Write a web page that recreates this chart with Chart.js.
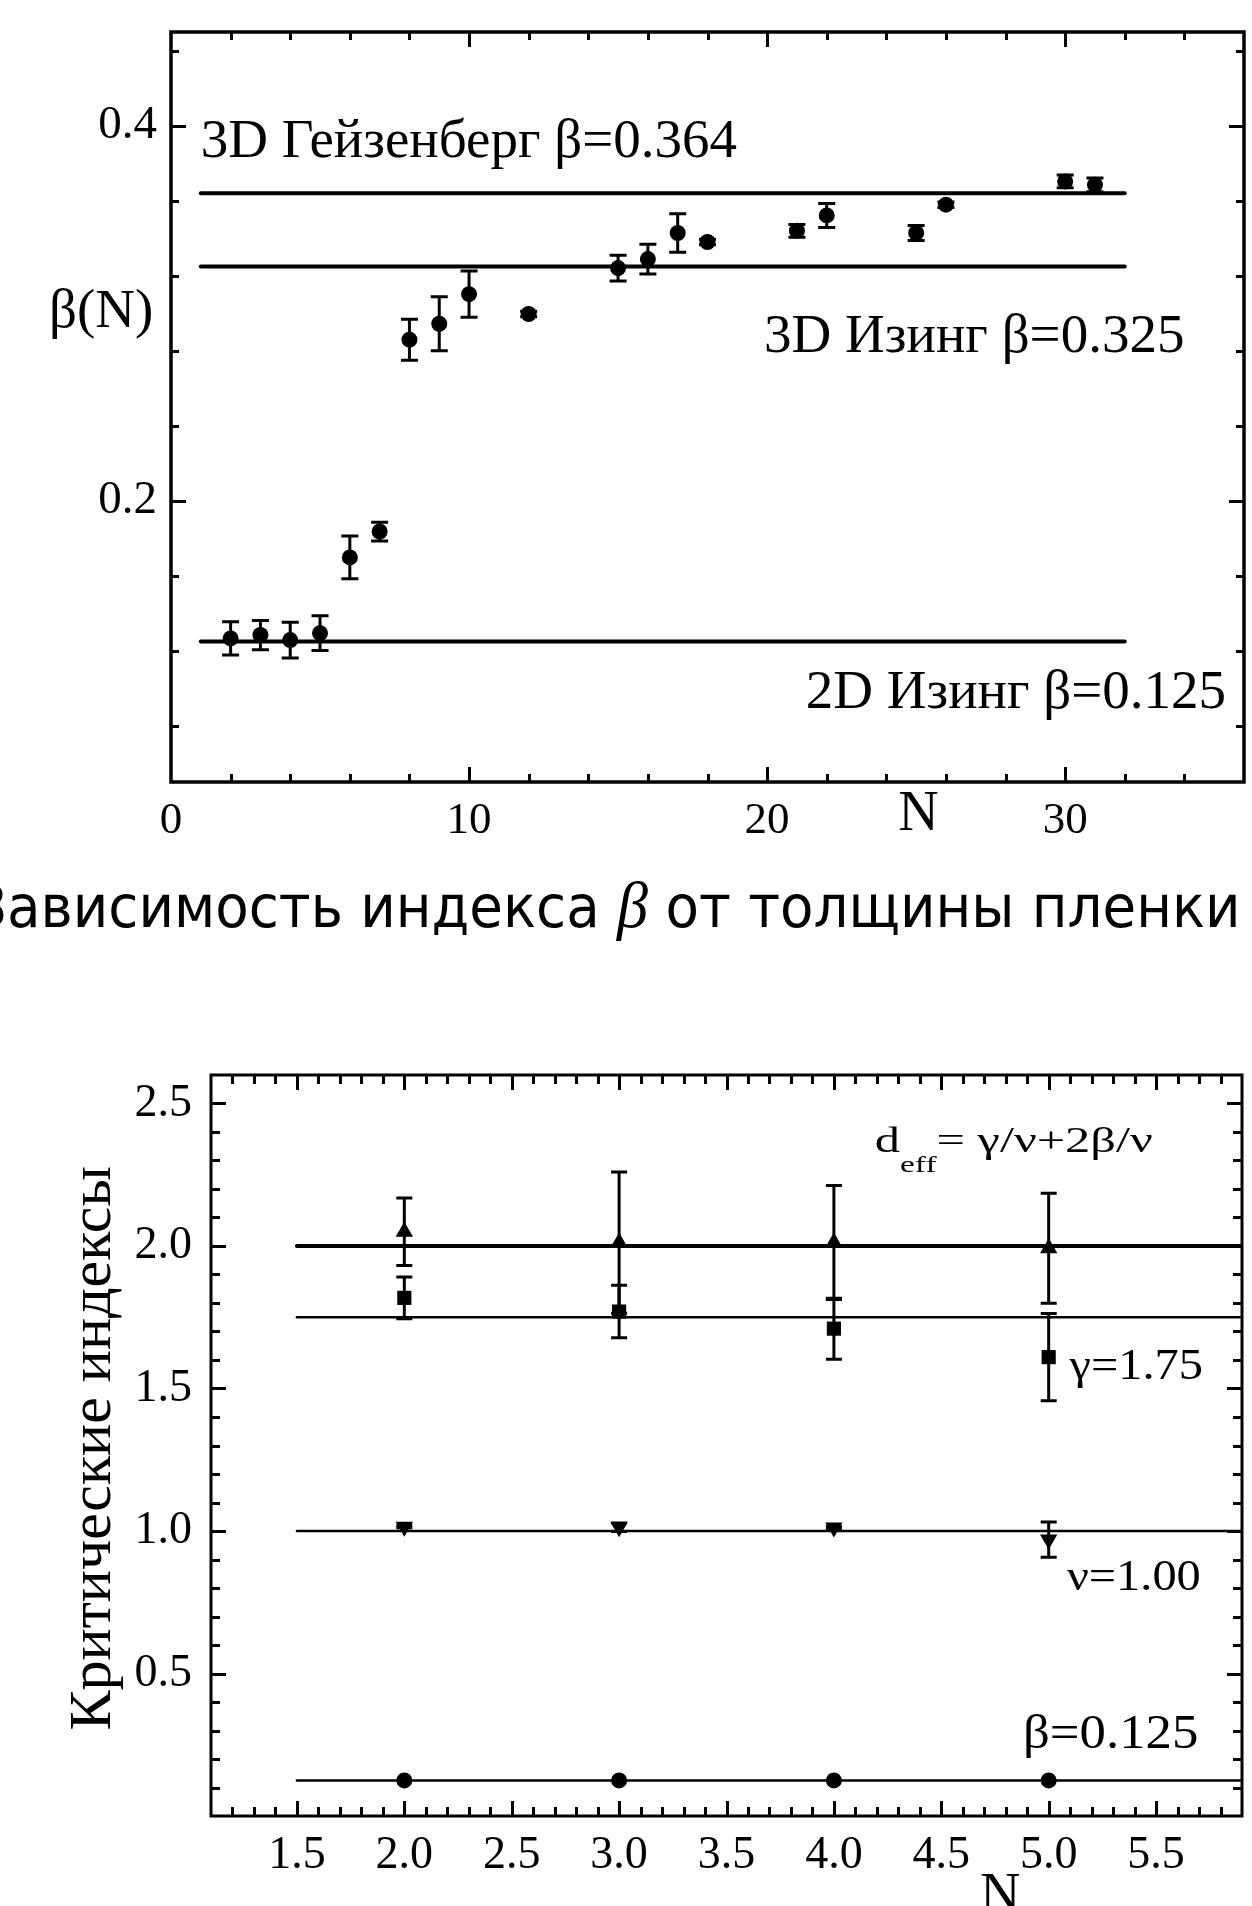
<!DOCTYPE html>
<html>
<head>
<meta charset="utf-8">
<script src="https://cdn.jsdelivr.net/npm/chart.js@4.4.1/dist/chart.umd.min.js"></script>
<style>
  html, body { margin: 0; padding: 0; background: #fff; }
  body { width: 1252px; height: 1906px; overflow: hidden; position: relative; }
  #topWrap { position: absolute; left: 0; top: 0; width: 1252px; height: 860px; }
  #botWrap { position: absolute; left: 0; top: 1040px; width: 1252px; height: 866px; }
  #caption {
    position: absolute; left: -28px; top: 876px; white-space: nowrap;
    font-family: "DejaVu Sans"; font-size: 58px; line-height: 58px; color: #000;
    transform: scaleX(0.943); transform-origin: 0 0;
  }
  #caption i { font-family: "Liberation Serif"; font-size: 66px; }
</style>
</head>
<body>
<div id="topWrap"><canvas id="topChart" width="1252" height="860"></canvas></div>
<div id="caption">Зависимость индекса <i>β</i> от толщины пленки</div>
<div id="botWrap"><canvas id="botChart" width="1252" height="866"></canvas></div>

<script>
// ---------- upper panel: beta(N) versus film thickness ----------
const thicknessN = [2, 3, 4, 5, 6, 7, 8, 9, 10, 12, 15, 16, 17, 18, 21, 22, 25, 26, 30, 31];
const betaN      = [0.1266, 0.1284, 0.1257, 0.1294, 0.1698, 0.1836, 0.2859, 0.2944, 0.3102, 0.2996,
                    0.3241, 0.3289, 0.3428, 0.3380, 0.3440, 0.3522, 0.3428, 0.3579, 0.3703, 0.3685];
const betaErr    = [0.0089, 0.0078, 0.0095, 0.0093, 0.0114, 0.0050, 0.0109, 0.0144, 0.0123, 0.0015,
                    0.0069, 0.0079, 0.0103, 0.0015, 0.0034, 0.0064, 0.0040, 0.0015, 0.0034, 0.0037];
const heisenbergBeta = 0.364;
const ising3DBeta    = 0.325;
const ising2DBeta    = 0.125;
const refLineSpanTop = [1, 32];
const topXTicks = [0, 10, 20, 30];
const topYTicks = [0.2, 0.4];

// ---------- lower panel: critical exponents versus N ----------
const layersN   = [2, 3, 4, 5];
const deffVals  = [2.050, 2.012, 2.012, 1.992];
const deffErr   = [0.118, 0.248, 0.200, 0.193];
const gammaVals = [1.818, 1.770, 1.710, 1.610];
const gammaErr  = [0.073, 0.092, 0.107, 0.153];
const nuVals    = [1.015, 1.013, 1.012, 0.970];
const nuErr     = [0.004, 0.015, 0.004, 0.062];
const beta2Vals = [0.125, 0.125, 0.125, 0.125];
const deffTheory  = 2.0;
const gammaTheory = 1.75;
const nuTheory    = 1.00;
const betaTheory  = 0.125;
const refLineSpanBot = [1.5, 5.9];
const botXTicks = [1.5, 2.0, 2.5, 3.0, 3.5, 4.0, 4.5, 5.0, 5.5];
const botYTicks = [0.5, 1.0, 1.5, 2.0, 2.5];

const SERIF = '"Liberation Serif", "Times New Roman", serif';

// Box frame with inward major/minor ticks on all four sides
const frameTicks = {
  id: 'frameTicks',
  afterDraw(chart, args, o) {
    const { ctx, chartArea: a, scales: { x, y } } = chart;
    ctx.save();
    ctx.strokeStyle = '#000';
    ctx.lineCap = 'butt';
    ctx.lineWidth = o.tickWidth;
    const eps = 1e-7;
    const isMajor = (v, step) => Math.abs(v / step - Math.round(v / step)) < 1e-6;
    for (let v = Math.ceil(x.min / o.xMinor - eps) * o.xMinor; v <= x.max + eps; v += o.xMinor) {
      if (Math.abs(v - x.min) < eps || Math.abs(v - x.max) < eps) continue;
      const px = Math.round(x.getPixelForValue(v)) + 0.5;
      const len = isMajor(v, o.xMajor) ? o.majorLen : o.minorLen;
      ctx.beginPath();
      ctx.moveTo(px, a.bottom); ctx.lineTo(px, a.bottom - len);
      ctx.moveTo(px, a.top); ctx.lineTo(px, a.top + len);
      ctx.stroke();
    }
    for (let v = Math.ceil(y.min / o.yMinor - eps) * o.yMinor; v <= y.max + eps; v += o.yMinor) {
      if (Math.abs(v - y.min) < eps || Math.abs(v - y.max) < eps) continue;
      const py = Math.round(y.getPixelForValue(v)) + 0.5;
      const len = isMajor(v, o.yMajor) ? o.majorLen : o.minorLen;
      ctx.beginPath();
      ctx.moveTo(a.left, py); ctx.lineTo(a.left + len, py);
      ctx.moveTo(a.right, py); ctx.lineTo(a.right - len, py);
      ctx.stroke();
    }
    ctx.lineWidth = o.frameWidth;
    ctx.strokeRect(a.left, a.top, a.right - a.left, a.bottom - a.top);
    ctx.restore();
  }
};

// Vertical error bars with caps, read from each dataset's `errors`
const errorBars = {
  id: 'errorBars',
  beforeDatasetsDraw(chart, args, o) {
    const { ctx, scales: { x, y } } = chart;
    ctx.save();
    ctx.strokeStyle = '#000';
    ctx.lineWidth = o.width;
    chart.data.datasets.forEach(ds => {
      if (!ds.errors) return;
      ds.data.forEach((p, i) => {
        const e = ds.errors[i];
        if (!e) return;
        const px = x.getPixelForValue(p.x);
        const y1 = y.getPixelForValue(p.y + e);
        const y2 = y.getPixelForValue(p.y - e);
        ctx.beginPath();
        ctx.moveTo(px, y1); ctx.lineTo(px, y2);
        ctx.moveTo(px - o.cap, y1); ctx.lineTo(px + o.cap, y1);
        ctx.moveTo(px - o.cap, y2); ctx.lineTo(px + o.cap, y2);
        ctx.stroke();
      });
    });
    ctx.restore();
  }
};

// Text labels placed in data coordinates (optionally with subscripts / horizontal stretch)
function drawRich(ctx, x, y, parts, align, sx) {
  ctx.save();
  ctx.textBaseline = 'alphabetic';
  ctx.textAlign = 'left';
  let total = 0;
  parts.forEach(p => { ctx.font = p.size + 'px ' + SERIF; total += ctx.measureText(p.text).width; });
  ctx.translate(x, y);
  ctx.scale(sx || 1, 1);
  let cx = align === 'right' ? -total : 0;
  parts.forEach(p => {
    ctx.font = p.size + 'px ' + SERIF;
    ctx.fillText(p.text, cx, p.dy || 0);
    cx += ctx.measureText(p.text).width;
  });
  ctx.restore();
}

const notesPlugin = {
  id: 'notes',
  afterDraw(chart, args, o) {
    const { ctx, chartArea: a, scales: { x, y } } = chart;
    ctx.save();
    ctx.fillStyle = '#000';
    (o.items || []).forEach(n => {
      const px = n.px !== undefined ? n.px : x.getPixelForValue(n.x);
      const py = n.below !== undefined ? a.bottom + n.below : y.getPixelForValue(n.y);
      if (n.rotate) {
        ctx.save();
        ctx.translate(px, py);
        ctx.rotate(-Math.PI / 2);
        ctx.font = n.parts[0].size + 'px ' + SERIF;
        ctx.textAlign = 'center';
        ctx.textBaseline = 'middle';
        ctx.fillText(n.parts[0].text, 0, 0);
        ctx.restore();
      } else {
        drawRich(ctx, px, py, n.parts, n.align, n.sx);
      }
    });
    ctx.restore();
  }
};

function fixedTicks(values) {
  return scale => { scale.ticks = values.map(v => ({ value: v })); };
}
// fixed axis thickness, and no extra room reserved for edge labels
function fixedSize(prop, size) {
  return s => {
    s[prop] = size;
    s.paddingTop = 0; s.paddingBottom = 0; s.paddingLeft = 0; s.paddingRight = 0;
  };
}

const blackPoint = { backgroundColor: '#000', borderColor: '#000', borderWidth: 0 };
function refLine(value, span, width) {
  return {
    data: [{ x: span[0], y: value }, { x: span[1], y: value }],
    showLine: true, pointRadius: 0, borderColor: '#000', borderWidth: width,
    borderCapStyle: 'round'
  };
}

// ---------- upper chart ----------
new Chart(document.getElementById('topChart'), {
  type: 'scatter',
  data: {
    datasets: [
      Object.assign({
        data: thicknessN.map((n, i) => ({ x: n, y: betaN[i] })),
        errors: betaErr, pointStyle: 'circle', pointRadius: 8
      }, blackPoint),
      refLine(heisenbergBeta, refLineSpanTop, 4),
      refLine(ising3DBeta, refLineSpanTop, 4),
      refLine(ising2DBeta, refLineSpanTop, 4)
    ]
  },
  options: {
    responsive: false, animation: false, devicePixelRatio: 1,
    events: [],
    layout: { padding: { left: 0, right: 8, top: 32, bottom: 0 } },
    plugins: {
      legend: { display: false }, tooltip: { enabled: false },
      frameTicks: { xMinor: 2, xMajor: 10, yMinor: 0.04, yMajor: 0.2, majorLen: 15, minorLen: 8, tickWidth: 3, frameWidth: 3.5 },
      errorBars: { width: 3, cap: 8.5 },
      notes: {
        items: [
          { x: 1.0, y: 0.3835, align: 'left', parts: [{ text: '3D Гейзенберг β=0.364', size: 55 }] },
          { x: 34.0, y: 0.2795, align: 'right', parts: [{ text: '3D Изинг β=0.325', size: 55 }] },
          { x: 35.4, y: 0.0896, align: 'right', parts: [{ text: '2D Изинг β=0.125', size: 55 }] },
          { px: 49, y: 0.2925, align: 'left', parts: [{ text: 'β(N)', size: 55 }] },
          { x: 24.4, below: 48, align: 'left', parts: [{ text: 'N', size: 56 }] }
        ]
      }
    },
    scales: {
      x: {
        type: 'linear', min: 0, max: 36,
        afterBuildTicks: fixedTicks(topXTicks),
        afterFit: fixedSize('height', 78),
        grid: { display: false, drawTicks: false }, border: { display: false },
        ticks: { font: { family: SERIF, size: 45 }, color: '#000', padding: 12, maxRotation: 0 }
      },
      y: {
        type: 'linear', min: 0.05, max: 0.45,
        afterBuildTicks: fixedTicks(topYTicks),
        afterFit: fixedSize('width', 171),
        grid: { display: false, drawTicks: false }, border: { display: false },
        ticks: { font: { family: SERIF, size: 47 }, color: '#000', padding: 14, callback: v => v.toFixed(1) }
      }
    }
  },
  plugins: [frameTicks, errorBars, notesPlugin]
});

// ---------- lower chart ----------
new Chart(document.getElementById('botChart'), {
  type: 'scatter',
  data: {
    datasets: [
      Object.assign({
        data: layersN.map((n, i) => ({ x: n, y: deffVals[i] })),
        errors: deffErr, pointStyle: 'triangle', pointRadius: 10
      }, blackPoint),
      Object.assign({
        data: layersN.map((n, i) => ({ x: n, y: gammaVals[i] })),
        errors: gammaErr, pointStyle: 'rect', pointRadius: 10
      }, blackPoint),
      Object.assign({
        data: layersN.map((n, i) => ({ x: n, y: nuVals[i] })),
        errors: nuErr, pointStyle: 'triangle', rotation: 180, pointRadius: 10
      }, blackPoint),
      Object.assign({
        data: layersN.map((n, i) => ({ x: n, y: beta2Vals[i] })),
        pointStyle: 'circle', pointRadius: 8
      }, blackPoint),
      refLine(deffTheory, refLineSpanBot, 4),
      refLine(gammaTheory, refLineSpanBot, 2.5),
      refLine(nuTheory, refLineSpanBot, 2.5),
      refLine(betaTheory, refLineSpanBot, 2.5)
    ]
  },
  options: {
    responsive: false, animation: false, devicePixelRatio: 1,
    events: [],
    layout: { padding: { left: 0, right: 10, top: 35, bottom: 0 } },
    plugins: {
      legend: { display: false }, tooltip: { enabled: false },
      frameTicks: { xMinor: 0.1, xMajor: 0.5, yMinor: 0.1, yMajor: 0.5, majorLen: 15, minorLen: 9, tickWidth: 3, frameWidth: 3 },
      errorBars: { width: 3, cap: 8 },
      notes: {
        items: [
          { x: 4.19, y: 2.329, align: 'left', sx: 1.4, parts: [
              { text: 'd', size: 36 }, { text: 'eff', size: 24, dy: 20 }, { text: '= γ/ν+2β/ν', size: 36 } ] },
          { x: 5.097, y: 1.535, align: 'left', sx: 1.1, parts: [{ text: 'γ=1.75', size: 44 }] },
          { x: 5.085, y: 0.792, align: 'left', sx: 1.1, parts: [{ text: 'ν=1.00', size: 44 }] },
          { x: 4.88, y: 0.237, align: 'left', sx: 1.1, parts: [{ text: 'β=0.125', size: 48 }] },
          { px: 94, y: 1.29, rotate: true, parts: [{ text: 'Критические индексы', size: 60 }] },
          { x: 4.68, below: 96, align: 'left', parts: [{ text: 'N', size: 56 }] }
        ]
      }
    },
    scales: {
      x: {
        type: 'linear', min: 1.1, max: 5.9,
        afterBuildTicks: fixedTicks(botXTicks),
        afterFit: fixedSize('height', 90),
        grid: { display: false, drawTicks: false }, border: { display: false },
        ticks: { font: { family: SERIF, size: 46 }, color: '#000', padding: 12, maxRotation: 0, callback: v => v.toFixed(1) }
      },
      y: {
        type: 'linear', min: 0, max: 2.6,
        afterBuildTicks: fixedTicks(botYTicks),
        afterFit: fixedSize('width', 211),
        grid: { display: false, drawTicks: false }, border: { display: false },
        ticks: { font: { family: SERIF, size: 46 }, color: '#000', padding: 19, callback: v => v.toFixed(1) }
      }
    }
  },
  plugins: [frameTicks, errorBars, notesPlugin]
});
</script>
</body>
</html>
